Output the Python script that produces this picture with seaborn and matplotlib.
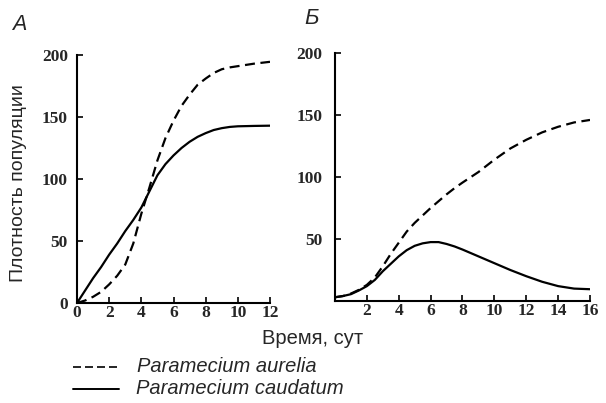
import numpy as np
import pandas as pd
import matplotlib
matplotlib.use("Agg")
import matplotlib.pyplot as plt
import seaborn as sns

sns.set_theme(style="white")
plt.rcParams["font.family"] = ["Liberation Sans", "DejaVu Sans"]

# Panel A: the two species grown separately
days_a = [0, 0.5, 1, 1.5, 2, 2.5, 3, 3.5, 4, 4.5, 5, 5.5, 6, 6.5, 7, 7.5, 8, 8.5, 9, 9.5, 10, 11, 12]
aurelia_a = [0, 2, 5, 9, 15, 22, 31, 48, 72, 93, 115, 133, 147, 159, 168, 176, 181, 185.5, 188.5, 190, 191, 193, 194.5]
caudatum_a = [0, 10, 20, 29, 39, 48, 58, 67, 77, 90, 103, 112, 119, 125, 130, 134, 137, 139.5, 141, 142, 142.5, 142.8, 143]

# Panel B: the two species grown together
days_b = [0, 0.5, 1, 1.5, 2, 2.5, 3, 3.5, 4, 4.5, 5, 5.5, 6, 6.5, 7, 7.5, 8, 9, 10, 11, 12, 13, 14, 15, 16]
aurelia_b = [3, 4, 6, 9, 13, 19, 28, 38, 47, 56, 63, 69, 75, 80.5, 86, 91, 95.5, 104, 114, 123, 130, 136, 140.5, 144, 146]
caudatum_b = [3, 4, 5.5, 8.5, 12, 17, 24, 30, 36, 41, 44.5, 46.5, 47.5, 47.5, 46, 44, 41.5, 36, 30.5, 25, 20, 15.5, 12, 10, 9.5]

ticks_a = [0, 2, 4, 6, 8, 10, 12]
ticks_b = [2, 4, 6, 8, 10, 12, 14, 16]
yticks_a = [0, 50, 100, 150, 200]
yticks_b = [50, 100, 150, 200]

fig = plt.figure(figsize=(6.06, 4.03), dpi=100)
ax_a = fig.add_axes([77 / 606, 1 - 303 / 403, (270 - 77) / 606, (303 - 55) / 403])
ax_b = fig.add_axes([335 / 606, 1 - 301 / 403, (590 - 335) / 606, (301 - 53) / 403])

dash = (0, (4.5, 2.5))
lw = 1.6

sns.lineplot(x=days_a, y=aurelia_a, ax=ax_a, color="black", lw=lw, linestyle=dash)
sns.lineplot(x=days_a, y=caudatum_a, ax=ax_a, color="black", lw=lw)
sns.lineplot(x=days_b, y=aurelia_b, ax=ax_b, color="black", lw=lw, linestyle=dash)
sns.lineplot(x=days_b, y=caudatum_b, ax=ax_b, color="black", lw=lw)

tick_font = {"family": "Liberation Serif", "weight": "bold", "size": 12.5}

for ax, xt, yt, xmax, ypad in [(ax_a, ticks_a, yticks_a, 12, 6.5), (ax_b, ticks_b, yticks_b, 16, 9)]:
    ax.set_xlim(0, xmax)
    ax.set_ylim(0, 200)
    ax.set_xticks(xt)
    ax.set_yticks(yt)
    ax.set_xticklabels([str(t) for t in xt], fontdict=tick_font)
    ax.set_yticklabels([str(t) for t in yt], fontdict=tick_font)
    ax.tick_params(axis="both", direction="in", length=4, width=1.2, color="black",
                   bottom=True, left=True)
    ax.tick_params(axis="x", pad=1.5)
    ax.tick_params(axis="y", pad=ypad)
    for side in ("top", "right"):
        ax.spines[side].set_visible(False)
    for side in ("left", "bottom"):
        ax.spines[side].set_color("black")
        ax.spines[side].set_linewidth(1.5)
    ax.set_xlabel("")
    ax.set_ylabel("")
    ax.patch.set_alpha(0)

fig.text(19 / 606, 1 - 183 / 403, "Плотность популяции", fontsize=14, rotation=90,
         ha="center", va="center")
fig.text(19 / 606, 1 - 24 / 403, "А", fontsize=15.5, style="italic", va="center", ha="center")
fig.text(312 / 606, 1 - 18 / 403, "Б", fontsize=16, style="italic", va="center", ha="center")
fig.text(313 / 606, 1 - 338 / 403, "Время, сут", fontsize=14.5, ha="center", va="center")

# Legend drawn by hand below the panels
leg = fig.add_axes([0, 0, 1, 1])
leg.set_xlim(0, 606)
leg.set_ylim(403, 0)
leg.axis("off")
leg.patch.set_alpha(0)
leg.plot([73, 119], [367, 367], color="black", lw=1.2, linestyle=(0, (4.8, 2.4)))
leg.plot([73, 119], [389, 389], color="black", lw=1.4)
leg.text(137, 366, "Paramecium aurelia", fontsize=14.5, style="italic", va="center")
leg.text(136, 388, "Paramecium caudatum", fontsize=14.5, style="italic", va="center")

fig.savefig("out.png", dpi=100, facecolor="white")
